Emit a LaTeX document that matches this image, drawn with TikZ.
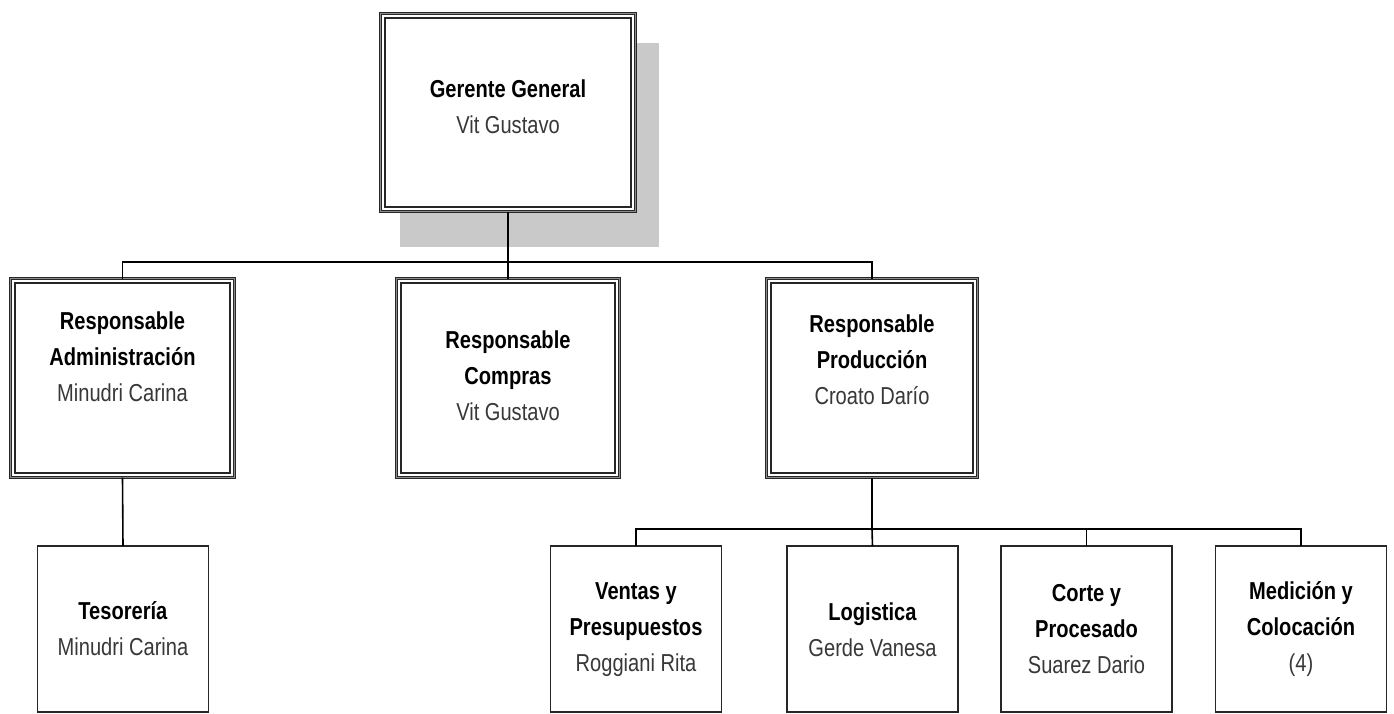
\documentclass[tikz,border=0pt]{standalone}
\usepackage{fontspec}
\setmainfont{Liberation Sans}[FakeStretch=0.82]
\begin{document}
\begin{tikzpicture}[x=1pt,y=-1pt,
  every node/.style={inner sep=0pt, outer sep=0pt},
  headbox/.style={draw=black!85, line width=1.1pt, double=black!45, double distance=1.4pt, fill=white},
  innerline/.style={draw=black!85, line width=1.2pt},
  unitbox/.style={draw=black!85, line width=1.6pt, fill=white},
  link/.style={draw=black, line width=1.6pt},
  txt/.style={align=center, font=\fontsize{24.5}{36}\selectfont}
]
\useasboundingbox (0,0) rectangle (1394,713);
\fill[white] (0,0) rectangle (1394,713);
\clip (0,0) rectangle (1394,713);

% shadow of the general manager box
\fill[black!21] (400,43) rectangle (659,247);

% boxes with double frame
\node[headbox, minimum width=255pt, minimum height=198pt] (gg) at (508,112.5) {};
\node[headbox, minimum width=224pt, minimum height=199pt] (adm) at (122.5,378) {};
\node[headbox, minimum width=223pt, minimum height=199pt] (cmp) at (508,378) {};
\node[headbox, minimum width=211pt, minimum height=199pt] (prd) at (872,378) {};
\foreach \b in {gg,adm,cmp,prd}
  \draw[innerline] ([shift={(4.5,-4.5)}]\b.south west) rectangle ([shift={(-4.5,4.5)}]\b.north east);

% boxes with single frame
\node[unitbox, minimum width=171pt, minimum height=166pt] (tes) at (123,629) {};
\node[unitbox, minimum width=171pt, minimum height=166pt] (ven) at (636,629) {};
\node[unitbox, minimum width=171pt, minimum height=166pt] (log) at (872.5,629) {};
\node[unitbox, minimum width=171pt, minimum height=166pt] (cor) at (1086.5,629) {};
\node[unitbox, minimum width=171pt, minimum height=166pt] (med) at (1301,629) {};

% connectors
\coordinate (busA) at (508,262);
\coordinate (busB) at (872,529);
\draw[link] (gg.south) -- (busA);
\draw[link] (adm.north) |- (busA) -| (prd.north);
\draw[link] (cmp.north) -- (busA);
\draw[link] (adm.south) -- (tes.north);
\draw[link] (prd.south) -- (busB);
\draw[link] (ven.north) |- (busB) -| (med.north);
\draw[link] (log.north) -- (busB);
\draw[link] (cor.north) |- (busB);

% texts
\node[txt] (gg-t) at (508,107) {\textbf{Gerente General}\\{\color{black!78}Vit Gustavo}};
\node[txt] (adm-t) at (122.5,357) {\textbf{Responsable}\\\textbf{Administración}\\{\color{black!78}Minudri Carina}};
\node[txt] (cmp-t) at (508,375.5) {\textbf{Responsable}\\\textbf{Compras}\\{\color{black!78}Vit Gustavo}};
\node[txt] (prd-t) at (872,359.5) {\textbf{Responsable}\\\textbf{Producción}\\{\color{black!78}Croato Darío}};
\node[txt] (tes-t) at (123,629) {\textbf{Tesorería}\\{\color{black!78}Minudri Carina}};
\node[txt] (ven-t) at (636,629.5) {\textbf{Ventas y}\\\textbf{Presupuestos}\\{\color{black!78}Roggiani Rita}};
\node[txt] (log-t) at (872.5,630) {\textbf{Logistica}\\{\color{black!78}Gerde Vanesa}};
\node[txt] (cor-t) at (1086.5,629.5) {\textbf{Corte y}\\\textbf{Procesado}\\{\color{black!78}Suarez Dario}};
\node[txt] (med-t) at (1301,629.5) {\textbf{Medición y}\\\textbf{Colocación}\\{\color{black!78}(4)}};
\end{tikzpicture}
\end{document}
